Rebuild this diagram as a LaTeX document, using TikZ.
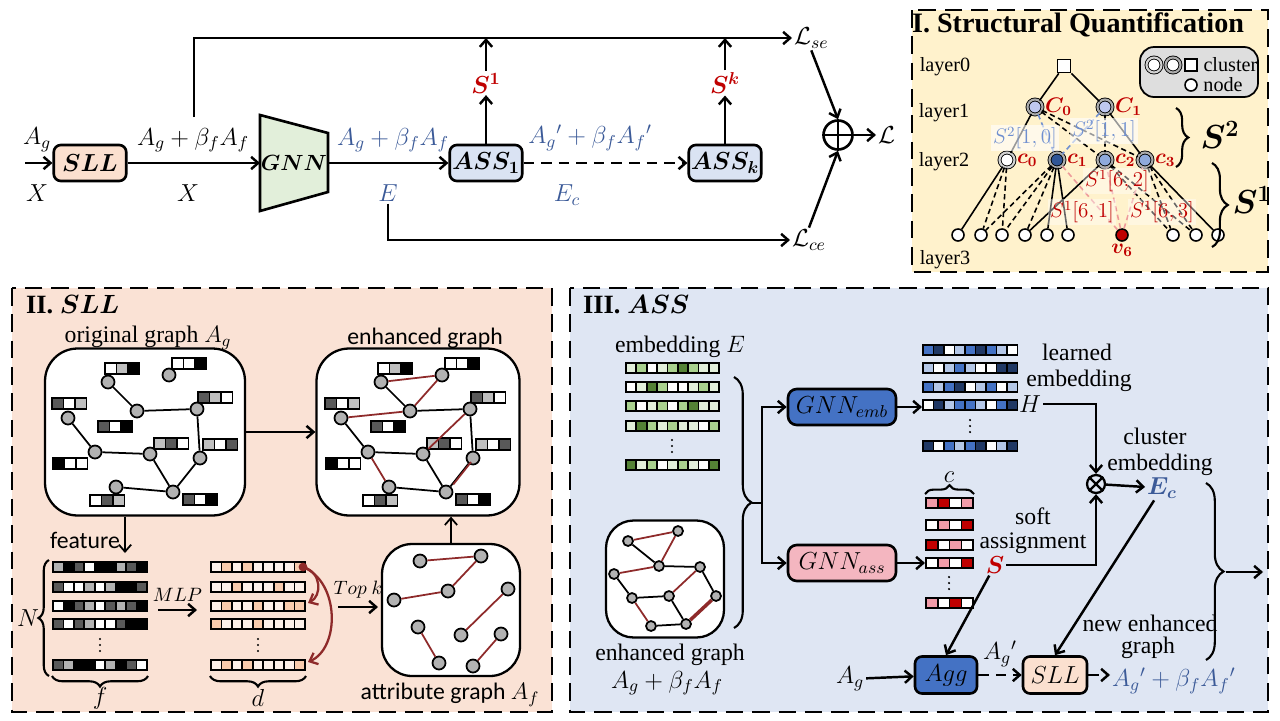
\RequirePackage{fix-cm}
\documentclass[tikz,border=0pt]{standalone}
\usepackage{amsmath,bm}
\usepackage{fontspec}
\setmainfont{Liberation Serif}
\newfontfamily\calfont{Carlito}
\usetikzlibrary{arrows.meta,positioning,decorations.pathreplacing,calc}

\definecolor{peach}{HTML}{FAE2D5}
\definecolor{panelbg}{HTML}{DFE6F3}
\definecolor{cream}{HTML}{FFF2CC}
\definecolor{boxpeach}{HTML}{FBE0CF}
\definecolor{boxgreen}{HTML}{E2EFDA}
\definecolor{boxblue}{HTML}{DAE3F3}
\definecolor{lblue}{HTML}{3B5A98}
\definecolor{sred}{HTML}{C00000}
\definecolor{dred}{HTML}{8E2A2A}
\definecolor{gL}{HTML}{E2EFDA}
\definecolor{gM}{HTML}{A9D18E}
\definecolor{gD}{HTML}{548235}
\definecolor{bL}{HTML}{B4C7E7}
\definecolor{bM}{HTML}{4472C4}
\definecolor{bD}{HTML}{203864}
\definecolor{rL}{HTML}{F19BA8}
\definecolor{rD}{HTML}{C00000}
\definecolor{oL}{HTML}{F8CBAD}
\definecolor{oW}{HTML}{FDF1EA}
\definecolor{pinkbox}{HTML}{F4B6C0}
\definecolor{c1blue}{HTML}{BFC8F0}
\definecolor{c2blue}{HTML}{8FAADC}
\definecolor{c3blue}{HTML}{2F5597}
\definecolor{sblue}{HTML}{6F8FD0}
\definecolor{spink}{HTML}{EE9A9A}

% one row of a matrix: x, y, cell width, colours
\newcommand{\cellrow}[4]{%
  \foreach \cl [count=\i from 0] in {#4}
    \filldraw[fill=\cl, draw=black, line width=1pt] ({#1+\i*#3},{#2-5}) rectangle ++(#3,10);
}
% vertical dots between matrix rows
\newcommand{\rowdots}[2]{%
  \foreach \k in {-6,0,6}
    \fill ({#1},{#2+\k}) circle [radius=0.7pt];
}
% three-cell node feature
\newcommand{\featbar}[3]{%
  \foreach \cl [count=\i from 0] in {#3}
    \filldraw[fill=\cl, draw=black, line width=0.9pt] ({#1+\i*11.5},#2) rectangle ++(11.5,11);
}
% graph of the SLL panel
\newcommand{\sllgraph}[1]{%
  \featbar{105}{363}{white,black!25,black}
  \featbar{172}{358}{white,white,black}
  \featbar{198}{392}{black!65,black!25,white}
  \featbar{52}{398}{black!65,white,black!25}
  \featbar{98}{421}{black!65,white,black}
  \featbar{154}{438}{black!25,black!65,white}
  \featbar{203}{439}{black!25,white,black!65}
  \featbar{53}{458}{black,white,white}
  \featbar{90}{495}{white,black!65,black!25}
  \featbar{183}{494}{black!65,white,black}
  \foreach \n/\px/\py in {1/108/382, 2/169/375, 3/137/411, 4/197/409, 5/68/418,
      6/95/452, 7/150/454, 8/200/458, 9/116/487, 10/173/492}
    \node[gnode] (#1\n) at (\px,\py) {};
  \foreach \a/\b in {1/3,3/4,4/8,5/6,6/7,7/10,8/10,9/10}
    \draw[gedge] (#1\a) -- (#1\b);
}

\begin{document}
\begin{tikzpicture}[x=0.02cm, y=-0.02cm,
    >={Straight Barb[length=4pt,width=7pt]},
    conn/.style={line width=1.4pt},
    dsh/.style={dash pattern=on 6pt off 4pt},
    box/.style={draw, line width=1.5pt, rounded corners=4pt, minimum width=1.45cm,
      minimum height=0.72cm, inner sep=1pt, font=\fontsize{14}{16}\selectfont},
    box2/.style={draw, line width=1.5pt, rounded corners=5pt, minimum width=2.16cm,
      minimum height=0.72cm, inner sep=1pt, font=\fontsize{14}{16}\selectfont},
    mlbl/.style={font=\fontsize{14}{16}\selectfont, inner sep=1pt},
    txt/.style={font=\fontsize{13.5}{15}\selectfont, inner sep=1pt},
    stxt/.style={font=\fontsize{11.5}{13}\selectfont, inner sep=1pt},
    nlbl/.style={font=\fontsize{12}{14}\selectfont, text=sred, inner sep=1pt},
    panel/.style={line width=1.5pt, dash pattern=on 10pt off 5pt},
    gnode/.style={circle, draw, line width=1pt, fill=black!30, minimum size=0.26cm, inner sep=0pt},
    hnode/.style={circle, draw, line width=1pt, fill=black!30, minimum size=0.2cm, inner sep=0pt},
    gedge/.style={line width=1pt},
    redge/.style={line width=1pt, dred},
    gbox/.style={draw, line width=1.3pt, fill=white, rounded corners=0.65cm},
    clus/.style={circle, draw=black, double=gray!65, double distance=1.2pt, line width=0.5pt,
      minimum size=0.3cm, inner sep=0pt},
    tnode/.style={circle, draw, line width=0.9pt, fill=white, minimum size=0.24cm, inner sep=0pt},
    tedge/.style={line width=0.9pt},
    tdash/.style={line width=0.9pt, dash pattern=on 3pt off 2pt},
    brc/.style={decorate, decoration={brace, amplitude=#1}, line width=1.2pt}]
\useasboundingbox (0,0) rectangle (1280,720);

% panels
\draw[panel, fill=cream] (912,10) rectangle (1268,272);
\draw[panel, fill=peach] (12,288) rectangle (552,712);
\draw[panel, fill=panelbg] (570,288) rectangle (1268,712);

%%% main pipeline
\coordinate (in) at (25,163);
\node[box, fill=boxpeach] (sll) at (90,163) {$\bm{SLL}$};
\filldraw[fill=boxgreen, line width=1.5pt] (260,115) -- (328,133) -- (328,192) -- (260,211) -- cycle;
\node[font=\fontsize{12.5}{14}\selectfont] (gnn) at (294,163) {$\bm{GNN}$};
\coordinate (gnnin) at (260,163);
\coordinate (gnnout) at (328,163);
\node[box, fill=boxblue] (ass1) at (486,163) {$\bm{ASS_1}$};
\node[box, fill=boxblue] (assk) at (725,163) {$\bm{ASS_k}$};
\node[mlbl] (ag0) at (37,140) {$A_g$};
\node[mlbl] (x0) at (37,193) {$X$};
\node[mlbl] (ag1) at (193,140) {$A_g+\beta_f A_f$};
\node[mlbl] (x1) at (188,193) {$X$};
\node[mlbl, lblue] (ag2) at (393,140) {$A_g+\beta_f A_f$};
\node[mlbl, lblue] (e1) at (388,193) {$E$};
\node[mlbl, lblue] (ag3) at (590,138) {$A_g{}'+\beta_f A_f{}'$};
\node[mlbl, lblue] (ec1) at (567,195) {$E_c$};
\node[mlbl, sred] (s1) at (486,83) {$\bm{S^1}$};
\node[mlbl, sred] (sk) at (725,83) {$\bm{S^k}$};
\node[mlbl, anchor=west] (lse) at (792,38) {$\mathcal{L}_{se}$};
\node[mlbl, anchor=west] (lce) at (790,240) {$\mathcal{L}_{ce}$};
\node[circle, draw, line width=1.5pt, minimum size=0.58cm, inner sep=0pt] (oplus) at (838,135) {};
\node[mlbl, anchor=west] (loss) at (876,135) {$\mathcal{L}$};
\coordinate (up1) at (194,117);

\draw[conn,->] (in) -- (sll);
\draw[conn,->] (sll) -- (gnnin);
\draw[conn,->] (gnnout) -- (ass1);
\draw[conn,dsh,->] (ass1) -- (assk);
\draw[conn,->] (up1) |- (lse.west);
\draw[conn,->] (ass1) -- (s1);
\draw[conn,->] (s1) -- (s1 |- lse.west);
\draw[conn,->] (assk) -- (sk);
\draw[conn,->] (sk) -- (sk |- lse.west);
\draw[conn,->] (e1) |- (lce.west);
\draw[conn,->] (lse.south) -- (oplus.north);
\draw[conn,->] (lce.north) -- (oplus.south);
\draw[conn] (oplus.north) -- (oplus.south) (oplus.west) -- (oplus.east);
\draw[conn,->] (oplus) -- (loss);

%%% I. Structural Quantification
\node[font=\bfseries\fontsize{16}{18}\selectfont] (t1) at (1078,25) {I. Structural Quantification};
\node[stxt] (ly0) at (945,67) {layer0};
\node[stxt] (ly1) at (944,113) {layer1};
\node[stxt] (ly2) at (944,162) {layer2};
\node[stxt] (ly3) at (945,260) {layer3};
\draw[line width=1pt, fill=black!13, rounded corners=8pt] (1140,47) rectangle (1258,97);
\node[clus, fill=white, double=gray!35] (lg1) at (1154,65) {};
\node[clus, fill=white] (lg2) at (1173,65) {};
\node[draw, line width=1pt, fill=white, minimum size=0.24cm, inner sep=0pt] (lg3) at (1191,65) {};
\node[stxt, right=2pt of lg3] (lgt1) {cluster};
\node[tnode] (lg4) at (1191,85) {};
\node[stxt, right=2pt of lg4] (lgt2) {node};

\node[draw, fill=white, line width=1pt, minimum size=0.26cm, inner sep=0pt] (root) at (1064,66) {};
\node[clus, fill=c1blue] (C0) at (1035,107) {};
\node[clus, fill=c1blue] (C1) at (1105,107) {};
\node[clus, fill=white, double=gray!35] (c0) at (1007,160) {};
\node[clus, fill=c3blue] (c1) at (1057,160) {};
\node[clus, fill=c2blue] (c2) at (1105,160) {};
\node[clus, fill=c2blue] (c3) at (1145,160) {};
\foreach \n/\px in {1/958, 2/981, 3/1002, 4/1025, 5/1047, 6/1068, 7/1173, 8/1196, 9/1218}
  \node[tnode] (n\n) at (\px,235) {};
\node[tnode, fill=sred] (v6) at (1122,235) {};
\node[nlbl, right=0pt of C0] {$\bm{C_0}$};
\node[nlbl, right=0pt of C1] {$\bm{C_1}$};
\node[nlbl, right=0pt of c0] {$\bm{c_0}$};
\node[nlbl, right=0pt of c1] {$\bm{c_1}$};
\node[nlbl, right=0pt of c2] (c2l) {$\bm{c_2}$};
\node[nlbl, right=0pt of c3] (c3l) {$\bm{c_3}$};
\node[nlbl, below=0pt of v6] {$\bm{v_6}$};

\draw[tedge] (root) -- (C0) (root) -- (C1) (C0) -- (c0) (C1) -- (c3);
\draw[tdash] (C0) -- (c2) (C0) -- (c3) (C1) -- (c2);
\draw[tdash, sblue] (C0) -- (c1) (C1) -- (c1);
\draw[tedge] (c0) -- (n1) (c1) -- (n5) (c1) -- (n6) (c2) -- (n4) (c3) -- (n9);
\draw[tdash] (c0) -- (n2) (c0) -- (n3) (c1) -- (n2) (c1) -- (n3) (c1) -- (n4)
  (c2) -- (n7) (c2) -- (n8) (c3) -- (n7) (c3) -- (n8);
\draw[tdash, spink] (v6) -- (c1) (v6) -- (c2) (v6) -- (c3);
\node[nlbl, text=sblue, fill=white, fill opacity=0.6, text opacity=1] at (1025,138) {$S^2[1,0]$};
\node[nlbl, text=sblue, fill=white, fill opacity=0.6, text opacity=1] at (1104,131) {$S^2[1,1]$};
\node[nlbl, fill=white, fill opacity=0.4, text opacity=1] at (1117,181) {$S^1[6,2]$};
\node[nlbl, fill=white, fill opacity=0.4, text opacity=1] at (1082,212) {$S^1[6,1]$};
\node[nlbl, fill=white, fill opacity=0.4, text opacity=1] at (1162,212) {$S^1[6,3]$};
\draw[brc=7pt] (1176,108) -- (1176,167);
\draw[brc=9pt] (1212,163) -- (1212,247);
\node[font=\fontsize{19}{21}\selectfont] (s2b) at (1220,135) {$\bm{S^2}$};
\node[font=\fontsize{19}{21}\selectfont] (s1b) at (1252,200) {$\bm{S^1}$};

%%% II. SLL
\node[font=\bfseries\fontsize{15}{17}\selectfont, anchor=west] (t2) at (20,305) {II. $\bm{SLL}$};
\node[txt] (ogl) at (148,338) {original graph $A_g$};
\node[txt, font=\calfont\fontsize{13.5}{15}\selectfont] (egl) at (425,338) {enhanced graph};
\node[gbox, minimum width=4.0cm, minimum height=3.34cm] (obox) at (145,432) {};
\node[gbox, minimum width=4.06cm, minimum height=3.34cm] (ebox) at (418,432) {};
\node[gbox, minimum width=2.76cm, minimum height=2.64cm, rounded corners=0.6cm] (abox) at (451,610) {};
\sllgraph{o}
\begin{scope}[shift={(273,0)}]
\sllgraph{e}
\end{scope}
\foreach \a/\b in {1/2,2/3,5/3,6/9,7/4}
  \draw[redge] (e\a) -- (e\b);
\draw[redge, transform canvas={shift={(1.5pt,1pt)}}] (e8) -- (e10);
\draw[conn,->] (obox) -- (ebox);
\draw[line width=1pt,->] (abox.north) -- (abox.north |- ebox.south);

\foreach \n/\px/\py in {1/420/561, 2/481/556, 3/448/591, 4/394/600, 5/508/589,
    6/418/627, 7/461/635, 8/439/663, 9/473/666, 10/501/634}
  \node[gnode] (a\n) at (\px,\py) {};
\foreach \a/\b in {1/2,2/3,3/4,5/7,6/8,10/9}
  \draw[redge] (a\a) -- (a\b);
\node[txt, font=\calfont\fontsize{13.5}{15}\selectfont] (agl) at (450,695) {attribute graph $A_f$};

\node[txt, font=\calfont\fontsize{13.5}{15}\selectfont, anchor=east] (feat) at (122,540) {feature};
\coordinate (featout) at (125,553);
\draw[line width=1pt,->] (obox.south -| featout) -- (featout);
\cellrow{53}{567}{10.45}{black!30,black,black!65,white,black,black,black!30,black!65,black}
\cellrow{53}{587}{10.45}{black!65,white,white,black!30,white,black!30,black,black,black!65}
\cellrow{53}{606}{10.45}{white,black,black!65,black!30,white,black!65,black!30,black!65,black}
\cellrow{53}{624}{10.45}{black!65,white,black!65,black!30,white,white,black!65,black,black}
\cellrow{53}{665}{10.45}{black!65,black!30,black,black,white,black!30,black,black!65,white}
\rowdots{100}{645}
\draw[brc=6pt] (49,676) -- (49,560);
\node[mlbl] (nl) at (28,618) {$N$};
\draw[brc=6pt] (148,676) -- (52,676);
\node[mlbl] (fl) at (100,698) {$f$};

\coordinate (mlpL) at (158,610);
\coordinate (mlpR) at (197,610);
\draw[conn,->] (mlpL) -- node[above=1pt, font=\fontsize{11}{13}\selectfont] {$MLP$} (mlpR);
\cellrow{211}{567}{10.45}{oW,oL,oW,oL,oW,oW,oW,oW,oL}
\cellrow{211}{587}{10.45}{oW,oW,oL,oW,oW,oW,oL,oW,oW}
\cellrow{211}{606}{10.45}{oW,oL,oW,oW,oL,oW,oW,oL,oL}
\cellrow{211}{624}{10.45}{oL,oW,oW,oW,oL,oW,oW,oW,oW}
\cellrow{211}{665}{10.45}{oW,oL,oW,oL,oW,oW,oW,oW,oL}
\rowdots{258}{645}
\draw[brc=6pt] (306,676) -- (210,676);
\node[mlbl] (dl) at (258,698) {$d$};
\coordinate (mlpA) at (303,567);
\coordinate (mlpC) at (308,603);
\coordinate (mlpE) at (308,662);
\fill[dred] (mlpA) circle [radius=2.5pt];
\draw[line width=1.3pt, dred, ->] (mlpA) .. controls (322,572) and (322,596) .. (mlpC);
\draw[line width=1.3pt, dred, ->] (mlpA) .. controls (340,582) and (340,648) .. (mlpE);
\coordinate (topL) at (338,607);
\coordinate (topR) at (378,607);
\draw[conn,->] (topL) -- node[above=1pt, font=\fontsize{11}{13}\selectfont] {$Top\ k$} (topR);

%%% III. ASS
\node[font=\bfseries\fontsize{15}{17}\selectfont, anchor=west] (t3) at (577,305) {III. $\bm{ASS}$};
\node[txt] (embl) at (680,347) {embedding $E$};
\cellrow{626}{368}{10.35}{gL,gM,white,gL,gM,gD,gM,gL,gL}
\cellrow{626}{387}{10.35}{white,gL,gD,gM,white,white,gL,gM,gL}
\cellrow{626}{406}{10.35}{gM,white,gL,gM,white,gM,gD,gL,gL}
\cellrow{626}{426}{10.35}{gL,gD,gM,gL,gM,gL,gL,white,gM}
\cellrow{626}{465}{10.35}{gD,gL,gM,white,gL,gM,gL,white,gD}
\rowdots{672}{446}

\node[gbox, minimum width=2.36cm, minimum height=2.34cm, rounded corners=0.55cm] (hbox) at (665,579) {};
\foreach \n/\px/\py in {1/628/541, 2/678/531, 3/659/566, 4/700/567, 5/614/574,
    6/632/598, 7/669/596, 8/716/596, 9/651/626, 10/686/624}
  \node[hnode] (h\n) at (\px,\py) {};
\foreach \a/\b in {1/3,3/4,4/8,5/6,6/7,7/10,9/10}
  \draw[gedge] (h\a) -- (h\b);
\foreach \a/\b in {1/2,2/3,5/3,7/4,6/9}
  \draw[redge] (h\a) -- (h\b);
\draw[line width=2pt, dred] (h8) -- (h10);
\node[txt] (hgl) at (670,655) {enhanced graph};
\node[mlbl] (hgm) at (667,683) {$A_g+\beta_f A_f$};

\draw[brc=10pt] (734,377) -- (734,628);
\coordinate (btip) at (752,503);
\coordinate (bsplit) at (762,503);
\node[box2, fill=bM] (gemb) at (842,407) {$GNN_{emb}$};
\node[box2, fill=pinkbox] (gass) at (842,563) {$GNN_{ass}$};
\draw[conn] (btip) -- (bsplit);
\draw[conn,->] (bsplit) |- (gemb);
\draw[conn,->] (bsplit) |- (gass);

\cellrow{923}{350}{10.5}{bM,bD,white,bL,bM,bD,bM,bL,white}
\cellrow{923}{368}{10.5}{bL,white,bL,bM,bL,white,white,bD,bD}
\cellrow{923}{387}{10.5}{bM,bL,bM,bD,white,bL,bM,white,bL}
\cellrow{923}{405}{10.5}{white,bD,bL,bM,bM,bL,white,bM,bD}
\cellrow{923}{446}{10.5}{bD,white,bM,bL,bM,bD,white,bL,bD}
\rowdots{970}{426}
\coordinate (hin) at (922,405);
\draw[conn,->] (gemb) -- (gemb -| hin);
\node[txt] (lrn) at (1077,352) {learned};
\node[txt] (lrn2) at (1079,381) {embedding};
\node[mlbl] (hl) at (1030,404) {$H$};

\draw[brc=5pt] (925,494) -- (974,494);
\node[mlbl] (cl) at (949,477) {$c$};
\cellrow{926}{503}{11.8}{rL,rD,white,rL}
\cellrow{926}{525}{11.8}{white,rL,white,rD}
\cellrow{926}{545}{11.8}{rD,white,rL,white}
\cellrow{926}{563}{11.8}{white,rL,white,rD}
\cellrow{926}{603}{11.8}{rL,white,rD,white}
\rowdots{949}{583}
\coordinate (cin) at (925,563);
\draw[conn,->] (gass) -- (gass -| cin);
\node[txt] (soft) at (1033,516) {soft};
\node[txt] (asg) at (1033,543) {assignment};
\node[mlbl, sred] (sl) at (995,565) {$\bm{S}$};

\node[circle, draw, line width=1.3pt, minimum size=0.36cm, inner sep=0pt] (otimes) at (1096,484) {};
\draw[line width=1.3pt] (otimes.north west) -- (otimes.south east) (otimes.north east) -- (otimes.south west);
\draw[conn,->] (hl) -| (otimes.north);
\draw[conn,->] (sl) -| (otimes.south);
\node[txt] (clu) at (1155,436) {cluster};
\node[txt] (clu2) at (1160,465) {embedding};
\node[mlbl, lblue] (ecl) at (1162,488) {$\bm{E_c}$};
\draw[conn,->] (otimes) -- (ecl);

\node[box, fill=bM, minimum width=1.24cm, minimum height=0.74cm, font=\fontsize{14}{16}\selectfont] (agg) at (946,675) {$Agg$};
\node[box, fill=boxpeach, minimum width=1.28cm, minimum height=0.74cm] (sll2) at (1055,675) {$SLL$};
\node[mlbl] (agin) at (850,679) {$A_g$};
\draw[conn,->] (agin) -- (agg);
\draw[conn,->] (sl) -- (agg.north);
\draw[conn,->] (ecl) -- (sll2.north);
\draw[conn,dsh,->] (agg) -- node[above=3pt, mlbl] {$A_g{}'$} (sll2);
\node[mlbl, lblue, anchor=west] (newa) at (1110,681) {$A_g{}'+\beta_f A_f{}'$};
\draw[conn,dsh,->] (sll2) -- (sll2 -| newa.west);
\node[txt] (nen) at (1150,623) {new enhanced};
\node[txt] (nen2) at (1148,648) {graph};
\draw[brc=10pt] (1206,483) -- (1206,660);
\coordinate (rtip) at (1226,572);
\coordinate (rend) at (1263,572);
\draw[conn,->] (rtip) -- (rend);
\end{tikzpicture}
\end{document}
